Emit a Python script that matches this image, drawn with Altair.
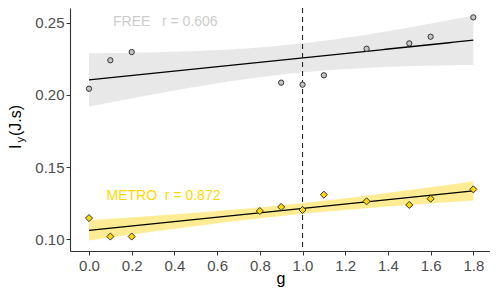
import altair as alt
import numpy as np
import pandas as pd

# data
g_free = [0.0, 0.1, 0.2, 0.9, 1.0, 1.1, 1.3, 1.5, 1.6, 1.8]
i_free = [0.2043, 0.2240, 0.2297, 0.2085, 0.2071, 0.2136, 0.2320, 0.2357, 0.2403, 0.2537]
g_metro = [0.0, 0.1, 0.2, 0.8, 0.9, 1.0, 1.1, 1.3, 1.5, 1.6, 1.8]
i_metro = [0.1147, 0.1019, 0.1019, 0.1196, 0.1224, 0.1203, 0.1309, 0.1263, 0.1238, 0.1281, 0.1346]
x_ticks = [0.0, 0.2, 0.4, 0.6, 0.8, 1.0, 1.2, 1.4, 1.6, 1.8]
y_ticks = [0.10, 0.15, 0.20, 0.25]
NB = "\u00a0"
label_free = "FREE" + NB * 3 + "r = 0.606"
label_metro = "METRO" + NB * 2 + "r = 0.872"


def smooth(g, v, t):
    g = np.array(g, dtype=float)
    v = np.array(v, dtype=float)
    n = len(g)
    b1, b0 = np.polyfit(g, v, 1)
    res = v - (b0 + b1 * g)
    s = np.sqrt((res ** 2).sum() / (n - 2))
    xs = np.linspace(g.min(), g.max(), 80)
    fit = b0 + b1 * xs
    se = s * np.sqrt(1 / n + (xs - g.mean()) ** 2 / ((g - g.mean()) ** 2).sum())
    return pd.DataFrame({"g": xs, "I": fit, "lo": fit - t * se, "hi": fit + t * se})


free_df = pd.DataFrame({"g": g_free, "I": i_free})
metro_df = pd.DataFrame({"g": g_metro, "I": i_metro})
free_sm = smooth(g_free, i_free, 2.306)
metro_sm = smooth(g_metro, i_metro, 2.262)

xsc = alt.Scale(domain=[-0.089, 1.878], nice=False, zero=False)
ysc = alt.Scale(domain=[0.0919, 0.2602], nice=False, zero=False)
xax = alt.Axis(values=x_ticks, format=".1f", title=None)
yax = alt.Axis(values=y_ticks, format=".2f", title=None)

X = alt.X("g:Q", scale=xsc, axis=xax)
Y = alt.Y("I:Q", scale=ysc, axis=yax)


def band(df, color):
    return alt.Chart(df).mark_area(color=color, opacity=1).encode(
        x=X, y=alt.Y("lo:Q", scale=ysc, axis=yax), y2="hi:Q"
    )


def line(df):
    return alt.Chart(df).mark_line(color="black", strokeWidth=1.3).encode(x=X, y=Y)


vline = alt.Chart(pd.DataFrame({"g": [1.0]})).mark_rule(
    color="#262626", strokeDash=[5, 4], strokeWidth=1.1
).encode(x=X)

pts_free = alt.Chart(free_df).mark_point(
    shape="circle", filled=True, fill="#c4c4c4", stroke="#333333", strokeWidth=1, size=28, opacity=1
).encode(x=X, y=Y)
pts_metro = alt.Chart(metro_df).mark_point(
    shape="diamond", filled=True, fill="#FFD700", stroke="#333333", strokeWidth=1, size=50, opacity=1
).encode(x=X, y=Y)

one = pd.DataFrame({"a": [0]})
txt_free = alt.Chart(one).mark_text(
    text=label_free, align="left", baseline="middle", fontSize=14, font="Liberation Sans", color="#cccccc"
).encode(x=alt.value(43), y=alt.value(14))
txt_metro = alt.Chart(one).mark_text(
    text=label_metro, align="left", baseline="middle", fontSize=14, font="Liberation Sans", color="#FFD700"
).encode(x=alt.value(36.5), y=alt.value(188))

yt_I = alt.Chart(one).mark_text(
    text="I", angle=270, align="left", baseline="alphabetic", fontSize=16, font="Liberation Sans", color="black"
).encode(x=alt.value(-49), y=alt.value(141))
yt_y = alt.Chart(one).mark_text(
    text="y", angle=270, align="left", baseline="alphabetic", fontSize=11, font="Liberation Sans", color="black"
).encode(x=alt.value(-46), y=alt.value(134.5))
yt_rest = alt.Chart(one).mark_text(
    text="(J.s)", angle=270, align="left", baseline="alphabetic", fontSize=16, font="Liberation Sans", color="black"
).encode(x=alt.value(-49), y=alt.value(128))
xt = alt.Chart(one).mark_text(
    text="g", align="center", baseline="alphabetic", fontSize=16, font="Liberation Sans", color="black"
).encode(x=alt.value(211), y=alt.value(276))

chart = alt.layer(
    band(free_sm, "#e9e8e8"),
    band(metro_sm, "#fdec94"),
    line(free_sm),
    line(metro_sm),
    vline,
    pts_free,
    pts_metro,
    txt_free,
    txt_metro,
    yt_I,
    yt_y,
    yt_rest,
    xt,
).properties(
    width=420,
    height=243,
    autosize=alt.AutoSizeParams(type="none"),
    padding={"left": 62, "top": 0, "right": 0, "bottom": 37},
).configure_view(stroke=None).configure_axis(
    grid=False,
    domainColor="#333333",
    domainWidth=1.1,
    tickColor="#333333",
    tickSize=4,
    labelFont="Liberation Sans",
    labelFontSize=15,
    labelColor="#4d4d4d",
).configure_axisX(labelPadding=3).configure_axisY(labelPadding=2)

chart.save("out.html", embed_options={"renderer": "svg", "actions": False})
